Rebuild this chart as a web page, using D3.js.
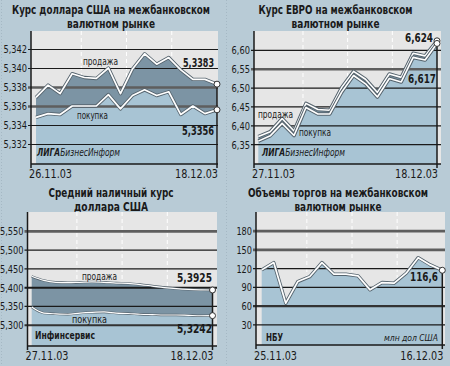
<!DOCTYPE html>
<html><head><meta charset="utf-8">
<script src="https://cdn.jsdelivr.net/npm/d3@7"></script>
<style>body{margin:0;background:#b8cbd6;} svg{display:block}</style>
</head><body>
<svg id="c" width="450" height="366"></svg>
<script>
// ---------- DATA ----------
const usdSell = [5.3369,5.3382,5.3373,5.3394,5.3390,5.3389,5.3400,5.3373,5.3399,5.3415,5.3404,5.3411,5.3398,5.3388,5.3388,5.3383];
const usdBuy  = [5.3348,5.3352,5.3351,5.3360,5.3360,5.3360,5.3372,5.3357,5.3371,5.3377,5.3371,5.3375,5.3351,5.3360,5.3352,5.3356];
const usdTicks = [5.332,5.334,5.336,5.338,5.340,5.342];
const usdDates = ["26.11.03","18.12.03"];

const eurSell = [6.370,6.383,6.418,6.385,6.458,6.442,6.440,6.500,6.543,6.522,6.487,6.536,6.527,6.591,6.584,6.624];
const eurBuy  = [6.358,6.372,6.405,6.373,6.447,6.430,6.430,6.488,6.532,6.510,6.475,6.524,6.515,6.580,6.573,6.617];
const eurTicks = [6.35,6.40,6.45,6.50,6.55,6.60];
const eurDates = ["27.11.03","18.12.03"];

const cashSell = [5.429,5.418,5.413,5.412,5.413,5.414,5.413,5.411,5.410,5.407,5.403,5.399,5.396,5.394,5.393,5.3925];
const cashBuy  = [5.347,5.331,5.329,5.328,5.331,5.333,5.334,5.331,5.330,5.328,5.327,5.326,5.326,5.325,5.324,5.3242];
const cashTicks = [5.300,5.350,5.400,5.450,5.500,5.550];
const cashDates = ["27.11.03","18.12.03"];

const volume = [117.2,128.9,63.9,98.5,106.5,128.9,110.3,110.3,107.6,85.2,96.9,95.9,111.9,136.8,125.2,116.6];
const volTicks = [30,60,90,120,150,180];
const volDates = ["25.11.03","16.12.03"];

// ---------- STYLE ----------
const FONT = "'Liberation Sans Narrow','Arial Narrow','DejaVu Sans Condensed','Roboto Condensed','Liberation Sans',sans-serif";
const C = {plot:"#e6e6e6", light:"#a8c4d4", dark:"#7c94a4", ink:"#1a1a1a", heavy:"#5e5e5e"};
const svg = d3.select("#c");

[1.5, 226.5].forEach(xx => svg.append("line").attr("x1",xx).attr("x2",xx).attr("y1",0).attr("y2",366)
  .attr("stroke","#9fb3bf").attr("stroke-width",0.8).attr("stroke-dasharray","1,2"));

function text(g, s, x, y, o) {
  const t = g.append("text").attr("x",x).attr("y",y).text(s)
    .attr("font-family",FONT).attr("font-size",o.size||11).attr("fill",C.ink)
    .attr("text-anchor",o.anchor||"start");
  if (o.bold) t.attr("font-weight","bold");
  if (o.italic) t.attr("font-style","italic");
  if (o.w) t.attr("textLength",o.w).attr("lengthAdjust","spacingAndGlyphs");
  return t;
}
const numW = s => s.replace(/[^0-9]/g,"").length*5.2 + s.replace(/[0-9]/g,"").length*2.8;

function panel(cfg) {
  const g = svg.append("g");
  const n = cfg.sell.length;
  const x = d3.scalePoint().domain(d3.range(n)).range([cfg.x0, cfg.x1]);
  const y = d3.scaleLinear().domain(cfg.yDomain).range(cfg.yRange);

  cfg.title.forEach((t,i) => text(g, t.s, cfg.tx, cfg.ty[i], {size:11.5, bold:true, anchor:"middle", w:t.w}));

  g.append("rect").attr("x",cfg.axisX).attr("y",cfg.top)
    .attr("width",cfg.right-cfg.axisX).attr("height",cfg.bottom-cfg.top).attr("fill",C.plot);

  [1,2,3].forEach(k => {
    const xx = cfg.x0 + (cfg.x1-cfg.x0)*k/4;
    g.append("line").attr("x1",xx).attr("x2",xx).attr("y1",cfg.top).attr("y2",cfg.bottom)
      .attr("stroke","#fff").attr("stroke-width",1).attr("stroke-dasharray","4,3");
  });

  const curve = cfg.smooth ? d3.curveMonotoneX : d3.curveLinear;
  const lower = cfg.buy || cfg.sell;
  g.append("path").datum(lower)
    .attr("d", d3.area().curve(curve).x((d,i)=>x(i)).y0(cfg.bottom).y1(d=>y(d)))
    .attr("fill",C.light);
  if (cfg.buy) {
    g.append("path").datum(cfg.sell)
      .attr("d", d3.area().curve(curve).x((d,i)=>x(i)).y0((d,i)=>y(cfg.buy[i])).y1(d=>y(d)))
      .attr("fill",C.dark);
  }

  const grid = g.append("g").attr("transform",`translate(${cfg.axisX},0)`)
    .call(d3.axisLeft(y).tickValues(cfg.ticks).tickSize(-(cfg.right-cfg.axisX)).tickFormat(""));
  grid.select(".domain").remove();
  grid.selectAll(".tick line").each(function(d){
    const h = cfg.heavy[d];
    d3.select(this).attr("stroke", h ? h[0] : C.ink).attr("stroke-width", h ? h[1] : 1.2)
      .attr("x1",-3);
  });
  const ax = g.append("g").attr("transform",`translate(${cfg.axisX-2},0)`)
    .call(d3.axisLeft(y).tickValues(cfg.ticks).tickSize(0).tickPadding(2).tickFormat(cfg.fmt));
  ax.select(".domain").remove();
  ax.selectAll("text").attr("font-family",FONT).attr("font-size",11).attr("fill",C.ink).attr("dy","0.36em")
    .attr("textLength", function(){ return numW(this.textContent); })
    .attr("lengthAdjust","spacingAndGlyphs");

  const lines = cfg.buy ? [cfg.sell, cfg.buy] : [cfg.sell];
  lines.forEach(L => {
    const ln = d3.line().curve(curve).x((d,i)=>x(i)).y(d=>y(d));
    g.append("path").datum(L).attr("d",ln).attr("fill","none")
      .attr("stroke","#55636d").attr("stroke-width",cfg.lw[0]).attr("stroke-linejoin","round");
    g.append("path").datum(L).attr("d",ln).attr("fill","none")
      .attr("stroke","#fff").attr("stroke-width",cfg.lw[1]).attr("stroke-linejoin","round");
  });

  g.append("line").attr("x1",cfg.axisX).attr("x2",cfg.axisX).attr("y1",cfg.top).attr("y2",cfg.bottom+4)
    .attr("stroke",C.ink).attr("stroke-width",1.5);
  g.append("line").attr("x1",cfg.axisX).attr("x2",cfg.right).attr("y1",cfg.bottom).attr("y2",cfg.bottom)
    .attr("stroke",C.ink).attr("stroke-width",1.5);
  g.append("line").attr("x1",cfg.x1).attr("x2",cfg.x1)
    .attr("y1",y(cfg.sell[n-1])).attr("y2",cfg.bottom+4)
    .attr("stroke",C.ink).attr("stroke-width",1.5);

  lines.forEach(L => g.append("circle").attr("cx",x(n-1)).attr("cy",y(L[n-1])).attr("r",3)
    .attr("fill","#fff").attr("stroke","#333").attr("stroke-width",1));

  text(g, cfg.dates[0], cfg.axisX-2, cfg.dy, {size:12.5, w:43});
  text(g, cfg.dates[1], cfg.x1+1, cfg.dy, {size:12.5, anchor:"end", w:43});

  cfg.vals.forEach(v => text(g, v.s, v.x, v.y, {size:13, bold:true, anchor:"end", w:v.w}));
  (cfg.names||[]).forEach(v => text(g, v.s, v.x, v.y, {size:10, w:v.w}));
  if (cfg.src) cfg.src(g);
}

const comma = f => v => d3.format(f)(v).replace(".", ",");
const liga = (g, x0) => {
  const t = g.append("text").attr("x",x0).attr("y",156).attr("font-family",FONT)
    .attr("font-size",10).attr("fill",C.ink).attr("font-style","italic")
    .attr("textLength",83).attr("lengthAdjust","spacingAndGlyphs");
  t.append("tspan").attr("font-weight","bold").text("ЛИГА");
  t.append("tspan").text("БизнесИнформ");
};

panel({
  sell: usdSell, buy: usdBuy, ticks: usdTicks, dates: usdDates, fmt: comma(".3f"),
  axisX:31, right:218, top:31, bottom:164, x0:36, x1:217,
  yDomain:[5.330,5.344], yRange:[163,30],
  heavy:{5.336:[C.heavy,2.5], 5.338:[C.heavy,2.5]},
  lw:[3.4,1.7],
  tx:111, ty:[13.5,28],
  title:[{s:"Курс доллара США на межбанковском", w:198},{s:"валютном рынке", w:88}],
  dy:177.5,
  vals:[{s:"5,3383", x:214, y:66.5, w:31},{s:"5,3356", x:214, y:135, w:32}],
  names:[{s:"продажа", x:83, y:64.5, w:35},{s:"покупка", x:77, y:118.5, w:31}],
  src: g => liga(g, 37)
});

panel({
  sell: eurSell, buy: eurBuy, ticks: eurTicks, dates: eurDates, fmt: comma(".2f"),
  axisX:254, right:441, top:31, bottom:164, x0:258.3, x1:437,
  yDomain:[6.30,6.65], yRange:[163,31],
  heavy:{6.55:[C.heavy,2.5]},
  lw:[3.6,1.6],
  tx:335.5, ty:[13.5,28],
  title:[{s:"Курс ЕВРО на межбанковском", w:154},{s:"валютном рынке", w:88}],
  dy:177.5,
  vals:[{s:"6,624", x:433, y:41.5, w:28},{s:"6,617", x:436, y:82.5, w:28}],
  names:[{s:"продажа", x:258, y:118, w:35},{s:"покупка", x:299, y:135.5, w:32}],
  src: g => liga(g, 262)
});

panel({
  sell: cashSell, buy: cashBuy, ticks: cashTicks, dates: cashDates, fmt: comma(".3f"), smooth:true,
  axisX:27.5, right:217, top:212, bottom:346, x0:31.7, x1:212.5,
  yDomain:[5.24,5.60], yRange:[347.3,212],
  heavy:{5.55:[C.heavy,2.8], 5.4:[C.ink,2], 5.3:["#333",2]},
  lw:[2.4,1.2],
  tx:111, ty:[196.5,211],
  title:[{s:"Средний наличный курс", w:125},{s:"доллара США", w:74}],
  dy:360,
  vals:[{s:"5,3925", x:212, y:282, w:35},{s:"5,3242", x:212, y:333, w:35}],
  names:[{s:"продажа", x:82, y:279.5, w:35},{s:"покупка", x:72, y:323, w:35}],
  src: g => text(g, "Инфинсервис", 35, 339, {size:10.5, bold:true, w:60})
});

panel({
  sell: volume, ticks: volTicks, dates: volDates, fmt: d3.format("d"),
  axisX:256, right:445, top:212, bottom:345, x0:261.7, x1:442.3,
  yDomain:[0,210], yRange:[343,212],
  heavy:{180:[C.heavy,2.8], 150:[C.heavy,2.8], 60:["#333",2.2]},
  lw:[3.4,1.7],
  tx:338, ty:[197,211],
  title:[{s:"Объемы торгов на межбанковском", w:180},{s:"валютном рынке", w:87}],
  dy:360,
  vals:[{s:"116,6", x:438, y:281, w:28}],
  src: g => { text(g, "НБУ", 266, 340.5, {size:10.5, bold:true, w:17});
              text(g, "млн дол США", 438, 340.5, {size:9.5, italic:true, anchor:"end", w:54}); }
});
</script>
</body></html>
